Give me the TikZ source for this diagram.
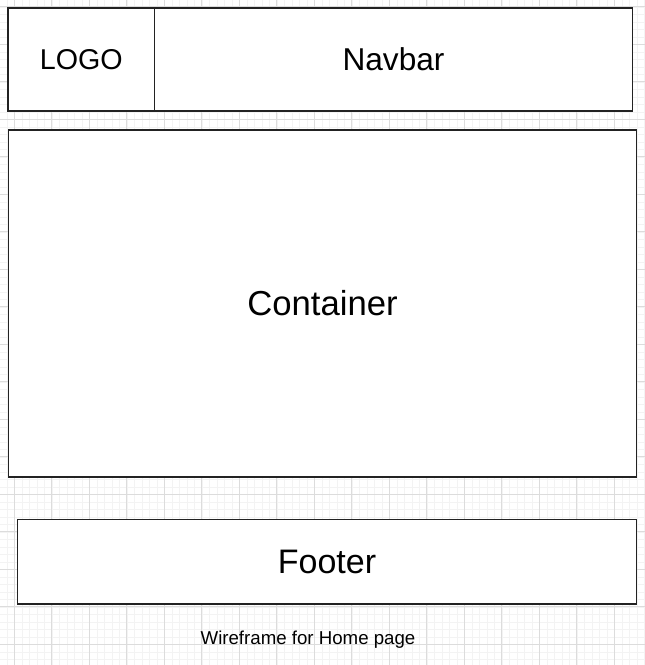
\documentclass[tikz,border=0pt]{standalone}
\usepackage{fontspec}
\setmainfont{Liberation Sans}
\usepackage{tikz}
\usetikzlibrary{positioning}
\def\px{0.75pt}
\definecolor{gridminor}{HTML}{F3F3F3}
\definecolor{gridmajor}{HTML}{DCDCDC}
\definecolor{edge}{HTML}{222222}
\tikzstyle{frame}=[draw=edge,line width=1.2pt,fill=white,rectangle,inner sep=0pt]
\tikzstyle{label}=[inner sep=0pt]
\begin{document}
\begin{tikzpicture}[x=0.75pt,y=-0.75pt]
      \useasboundingbox (0,0) rectangle (645,665);
      \fill [white] (0,0) rectangle (645,665);
      % grid behind the wireframe
      \foreach \k in {0,...,88} {
        \draw [gridminor, line width=0.4pt] ({-0.7+7.5*\k},0) -- ({-0.7+7.5*\k},665);
        \draw [gridminor, line width=0.4pt] (0,{-0.7+7.5*\k}) -- (645,{-0.7+7.5*\k});
      }
      \foreach \k in {0,...,17} {
        \draw [gridmajor, line width=0.6pt] ({14.3+37.5*\k},0) -- ({14.3+37.5*\k},665);
        \draw [gridmajor, line width=0.6pt] (0,{6.8+37.5*\k}) -- (645,{6.8+37.5*\k});
      }
      \node [frame, minimum width=146.5*\px, minimum height=103*\px,
             font=\fontsize{21.5}{24}\selectfont] (logo) at (81.25, 59.5) {LOGO};
      \node [frame, minimum width=478*\px, minimum height=103*\px,
             font=\fontsize{23.7}{27}\selectfont] (navbar) at (393.5, 59.5) {Navbar};
      \node [frame, minimum width=628*\px, minimum height=347*\px,
             font=\fontsize{26}{30}\selectfont] (container) at (322.5, 303.5) {Container};
      \node [frame, minimum width=619*\px, minimum height=84.5*\px,
             font=\fontsize{25.5}{29}\selectfont] (footer) at (327, 561.75) {Footer};
      \node [label, font=\fontsize{14}{16}\selectfont] (caption) at (308, 639.5) {Wireframe for Home page};
\end{tikzpicture}
\end{document}
